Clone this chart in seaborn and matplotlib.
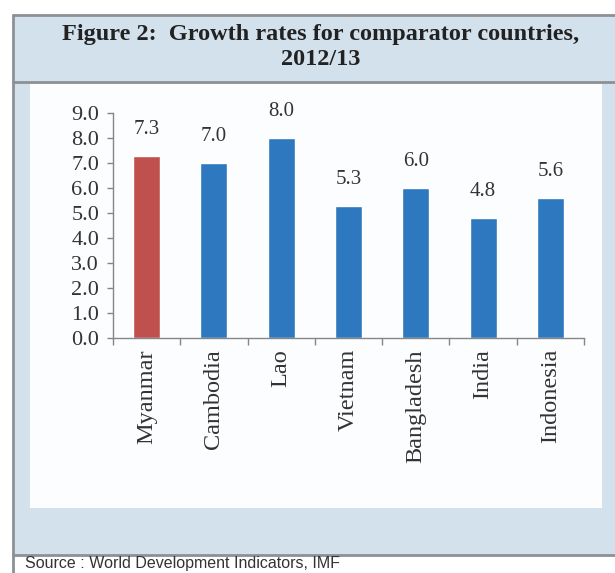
import pandas as pd
import matplotlib.pyplot as plt
import seaborn as sns
from matplotlib.patches import Rectangle
from matplotlib.lines import Line2D
from matplotlib.ticker import FixedLocator, FormatStrFormatter

countries = ['Myanmar', 'Cambodia', 'Lao', 'Vietnam', 'Bangladesh', 'India', 'Indonesia']
growth = [7.3, 7.0, 8.0, 5.3, 6.0, 4.8, 5.6]
bar_colors = ['#c0504d', '#2d78be', '#2d78be', '#2d78be', '#2d78be', '#2d78be', '#2d78be']
title_text = 'Figure 2:  Growth rates for comparator countries,\n2012/13'
source_text = 'Source : World Development Indicators, IMF'

df = pd.DataFrame({'country': countries, 'growth': growth})

sns.set_style('white')
plt.rcParams['font.family'] = ['Liberation Serif', 'DejaVu Serif']

W, H = 615, 573
fig = plt.figure(figsize=(W / 100, H / 100), dpi=100)
fig.patch.set_facecolor('white')


def box(x0, y0, x1, y1, color):
    # pixel coords, origin top-left
    fig.patches.append(Rectangle((x0 / W, 1 - y1 / H), (x1 - x0) / W, (y1 - y0) / H,
                                 transform=fig.transFigure, facecolor=color,
                                 edgecolor='none', zorder=0))


def hline(y, x0, x1):
    fig.lines.append(Line2D([x0 / W, x1 / W], [1 - y / H, 1 - y / H], transform=fig.transFigure,
                            color='#8c9196', lw=2, zorder=1))


def vline(x, y0, y1):
    fig.lines.append(Line2D([x / W, x / W], [1 - y0 / H, 1 - y1 / H], transform=fig.transFigure,
                            color='#8c9196', lw=2, zorder=1))


# frame of the figure box
box(13, 15, 615, 555, '#d3e1ec')
box(30, 84, 602, 508, '#fcfdfe')
hline(15, 13, 615)
hline(82, 13, 615)
hline(555, 13, 615)
vline(13, 15, 573)

fig.text(321 / W, 1 - 47 / H, title_text, ha='center', va='center', fontsize=17.5,
         fontweight='bold', color='#222222', linespacing=1.2)
fig.text(25 / W, 1 - 568 / H, source_text, ha='left', va='baseline', fontsize=11.5,
         color='#333333', family=['Liberation Sans', 'DejaVu Sans'])

ax = fig.add_axes([113 / W, 1 - 338 / H, (584 - 113) / W, (338 - 113) / H], zorder=3)
ax.patch.set_alpha(0)
sns.barplot(data=df, x='country', y='growth', hue='country', palette=bar_colors,
            width=0.4, legend=False, ax=ax, saturation=1)

for c in ax.containers:
    ax.bar_label(c, fmt='%.1f', padding=12, fontsize=15, color='#333333')

ax.set_ylim(0, 9)
ax.set_xlim(-0.5, len(countries) - 0.5)
ax.set_yticks([0, 1, 2, 3, 4, 5, 6, 7, 8, 9])
ax.yaxis.set_major_formatter(FormatStrFormatter('%.1f'))
ax.set_xlabel('')
ax.set_ylabel('')
ax.tick_params(axis='y', labelsize=16, length=4, width=1, color='#868686', left=True,
               labelcolor='#333333', pad=6)
ax.tick_params(axis='x', labelsize=17.5, length=0, rotation=90, labelcolor='#333333', pad=8)
ax.xaxis.set_minor_locator(FixedLocator([i - 0.5 for i in range(len(countries) + 1)]))
ax.tick_params(axis='x', which='minor', length=5, width=1, color='#868686', bottom=True)

sns.despine(ax=ax)
for s in ['left', 'bottom']:
    ax.spines[s].set_color('#868686')
    ax.spines[s].set_linewidth(1)

fig.savefig('out.png', dpi=100)
